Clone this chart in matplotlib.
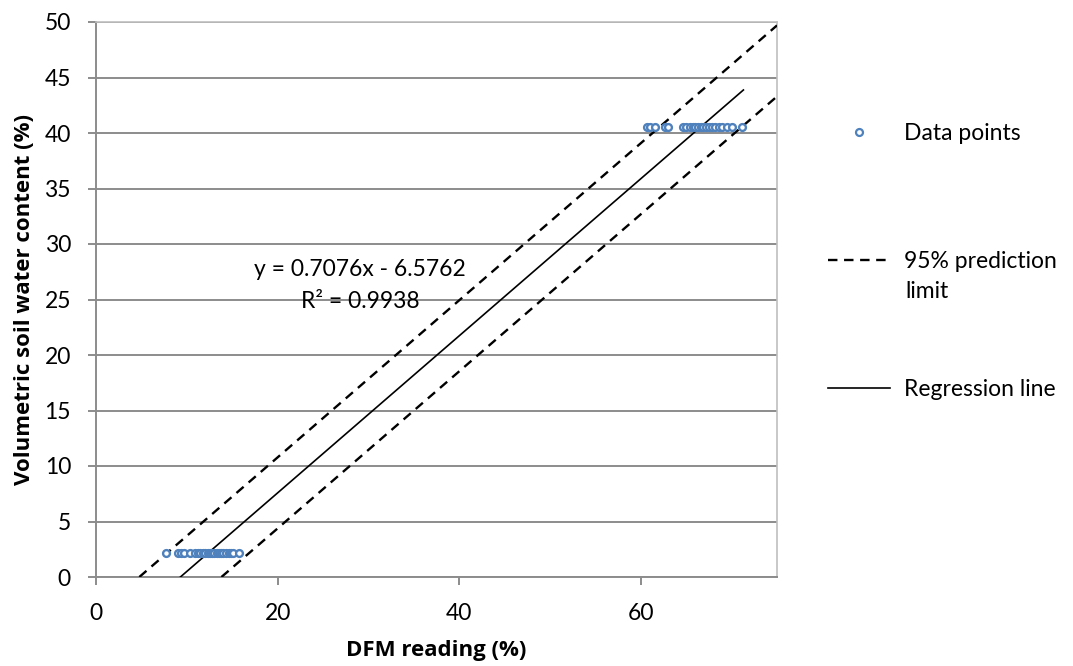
import numpy as np
import matplotlib
matplotlib.use("Agg")
import matplotlib.pyplot as plt
from matplotlib.lines import Line2D

plt.rcParams["font.family"] = ["Lato", "DejaVu Sans"]

# data
low_x = [7.7, 9.0, 9.4, 9.7, 10.3, 10.9, 11.2, 11.5, 11.8, 12.0, 12.3, 12.5, 12.8,
         13.0, 13.3, 13.5, 13.8, 14.0, 14.3, 14.6, 14.9, 15.1, 15.8]
low_y = 2.2
high_x = [60.7, 61.0, 61.6, 62.7, 63.0, 64.6, 65.0, 65.4, 65.7, 66.0, 66.3, 66.6,
          66.9, 67.2, 67.5, 67.8, 68.2, 68.6, 68.9, 69.5, 70.0, 71.1]
high_y = 40.5

slope = 0.7076
intercept = -6.5762
r2 = 0.9938
pi_offset = 3.2   # half-width of the 95% prediction band (y units)
reg_range = [-intercept / slope, 71.3]
upper_range = [-(intercept + pi_offset) / slope, 75]
lower_range = [-(intercept - pi_offset) / slope, 75]

fig = plt.figure(figsize=(10.73, 6.66), dpi=100)
ax = fig.add_axes([96 / 1073, 1 - 577 / 666, (777 - 96) / 1073, (577 - 22) / 666])

grid_c = "#8c8c8c"
ax.set_xlim(0, 75)
ax.set_ylim(0, 50)
ax.set_yticks(np.arange(0, 51, 5))
ax.set_xticks([0, 20, 40, 60])
ax.yaxis.grid(True, color=grid_c, lw=1.4)
ax.set_axisbelow(True)
for s in ["left", "bottom"]:
    ax.spines[s].set_color(grid_c)
    ax.spines[s].set_linewidth(1.4)
for s in ["top", "right"]:
    ax.spines[s].set_color("#bfbfbf")
    ax.spines[s].set_linewidth(1.2)
ax.tick_params(axis="both", colors=grid_c, width=1.4, length=6, labelsize=16.5,
               labelcolor="black")
ax.tick_params(axis="x", pad=12.5)
ax.tick_params(axis="y", pad=12)

pts_x = low_x + high_x
pts_y = [low_y] * len(low_x) + [high_y] * len(high_x)
ax.scatter(pts_x, pts_y, s=24, facecolors="white", edgecolors="#4f81bd",
           linewidths=1.7, zorder=4, clip_on=False)

dash = (0, (4, 2.8))
xr = np.array(reg_range)
ax.plot(xr, slope * xr + intercept, color="black", lw=1.2, zorder=3)
xu = np.array(upper_range)
ax.plot(xu, slope * xu + intercept + pi_offset, color="black", lw=1.7, ls=dash, zorder=3)
xl = np.array(lower_range)
ax.plot(xl, slope * xl + intercept - pi_offset, color="black", lw=1.7, ls=dash, zorder=3)

ax.text(29.1, 27.7, "y = %.4fx - %.4f" % (slope, -intercept), fontsize=16.5,
        ha="center", va="center")
ax.text(29.1, 24.8, "R² = %.4f" % r2, fontsize=16.5, ha="center", va="center")

ax.set_xlabel("DFM reading (%)", fontsize=16, fontweight="bold", labelpad=12,
              family=["Open Sans", "DejaVu Sans"])
ax.set_ylabel("Volumetric soil water content (%)", fontsize=16, fontweight="bold",
              labelpad=7, family=["Open Sans", "DejaVu Sans"])

handles = [
    Line2D([], [], ls="none", marker="o", markersize=5, markerfacecolor="white",
           markeredgecolor="#4f81bd", markeredgewidth=1.6),
    Line2D([], [], color="black", lw=1.7, ls=dash),
    Line2D([], [], color="black", lw=1.2),
]
labels = ["Data points", "95% prediction", "Regression line"]
leg = fig.legend(handles, labels, loc="upper left",
                 bbox_to_anchor=(828 / 1073, 1 - 123 / 666),
                 frameon=False, fontsize=16.5, handlelength=2.7, handletextpad=0.6,
                 labelspacing=4.66, borderpad=0, borderaxespad=0)
fig.text(905 / 1073, 1 - 291 / 666, "limit", fontsize=16.5, va="center", ha="left")

fig.savefig("out.png", dpi=100)
